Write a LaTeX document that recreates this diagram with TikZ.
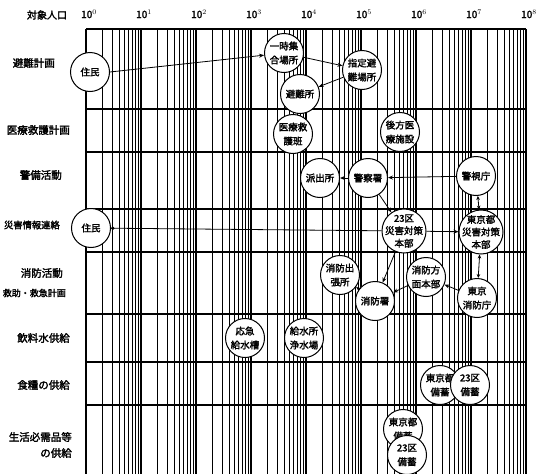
\documentclass[tikz,border=0pt]{standalone}
\usepackage{fontspec}
\newfontfamily\jp[AutoFakeBold=2.2]{Noto Sans CJK JP}
\usetikzlibrary{arrows.meta}
\begin{document}
\begin{tikzpicture}[x=1pt, y=-1pt,
  minor/.style={black, line width=0.7pt},
  major/.style={black, line width=1.4pt},
  rowline/.style={black, line width=1.2pt},
  org/.style={draw=black, line width=1pt, circle, fill=white,
              minimum size=39pt, inner sep=-9pt, align=center,
              font=\jp\bfseries\fontsize{9.5}{14}\selectfont},
  bigorg/.style={org, minimum size=44pt,
              font=\jp\bfseries\fontsize{9.5}{12.5}\selectfont},
  rowlbl/.style={anchor=east, inner sep=0pt, align=right,
              font=\jp\bfseries\fontsize{10.5}{12}\selectfont},
  axlbl/.style={inner sep=0pt, font=\jp\bfseries\fontsize{10}{12}\selectfont},
  arr/.style={-{Stealth[length=5pt, width=4pt]}, line width=0.8pt},
  arrboth/.style={{Stealth[length=4pt, width=3.5pt]}-{Stealth[length=4pt, width=3.5pt]}, line width=0.8pt},
  dotline/.style={{Circle[length=3.5pt]}-, line width=0.8pt},
]
\useasboundingbox (0,0) rectangle (541,474);
\def\dx{55}  % one decade
\def\xo{86}  % 10^0
% Axis labels
\node[axlbl] (axname) at (47,15) {対象人口};
\foreach \d in {0,...,8}
  \node[axlbl] (ax\d) at ({\xo+\dx*\d+3},14) {10$^{\d}$};
% Log grid
\foreach \d in {0,...,7}
  \foreach \k in {2,...,9} {
    \pgfmathsetmacro{\gx}{\xo+\dx*(\d+log10(\k))}
    \draw[minor] (\gx,29) -- (\gx,474);
  }
\foreach \d in {0,...,8}
  \draw[major] ({\xo+\dx*\d},29) -- ({\xo+\dx*\d},474);
% Row lines
\foreach \r in {29,109,152,209,252,314,362,405}
  \draw[rowline] (\xo,\r) -- ({\xo+8*\dx},\r);
% Row labels
\node[rowlbl] (r1) at (55,63) {避難計画};
\node[rowlbl] (r2) at (70,130) {医療救護計画};
\node[rowlbl] (r3) at (62,175) {警備活動};
\node[rowlbl, font=\jp\bfseries\fontsize{9.3}{12}\selectfont] (r4) at (60,225) {災害情報連絡};
\node[rowlbl] (r5) at (63,273) {消防活動};
\node[rowlbl, font=\jp\bfseries\fontsize{9}{12}\selectfont] (r6) at (66,293) {救助・救急計画};
\node[rowlbl] (r7) at (70,338) {飲料水供給};
\node[rowlbl] (r8) at (70,385) {食糧の供給};
\node[rowlbl, font=\jp\bfseries\fontsize{10.5}{16}\selectfont] (r9) at (72,445) {生活必需品等\\の供給};
% Organisations
\node[org] (jumin1) at (90,72) {住民};
\node[org] (ichiji) at (284,53) {一時集\\合場所};
\node[org] (shitei) at (362,70) {指定避\\難場所};
\node[org] (hinanjo) at (300,94) {避難所};
\node[org] (iryohan) at (293,134) {医療救\\護班};
\node[org] (koho) at (400,132) {後方医\\療施設};
\node[org] (hashutsu) at (320,178) {派出所};
\node[org] (keisatsu) at (368,178) {警察署};
\node[org] (keishicho) at (476,176) {警視庁};
\node[org] (jumin2) at (91,228) {住民};
\node[bigorg] (ku23) at (404,231) {23区\\災害対策\\本部};
\node[bigorg] (tokyo) at (481,232) {東京都\\災害対策\\本部};
\node[org] (shutcho) at (340,275) {消防出\\張所};
\node[org] (homen) at (426,277) {消防方\\面本部};
\node[org] (tfd) at (477,298) {東京\\消防庁};
\node[org] (shobosho) at (375,301) {消防署};
\node[org] (okyu) at (245,338) {応急\\給水槽};
\node[org] (kyusui) at (304,338) {給水所\\浄水場};
\node[org] (tbichiku1) at (440,385) {東京都\\備蓄};
\node[org] (kbichiku1) at (470,385) {23区\\備蓄};
\node[org] (tbichiku2) at (403,429) {東京都\\備蓄};
\node[org] (kbichiku2) at (407,455) {23区\\備蓄};
% Connectors
\draw[arr] (jumin1.east) -- (ichiji);
\draw[arr] (ichiji) -- (shitei);
\draw[arr] (shitei) -- (hinanjo);
\draw[arr] (keisatsu) -- (hashutsu);
\draw[arr] (keishicho) -- (keisatsu);
\draw[arr] (keisatsu) -- (ku23);
\draw[arrboth] (keishicho) -- (tokyo);
\draw[dotline] (jumin2) -- (ku23);
\draw[arr] (ku23) -- (tokyo);
\draw[arr] (ku23) -- (shobosho);
\draw[arr] (shobosho) -- (shutcho);
\draw[arr] (homen) -- (shobosho);
\draw[arr] (tfd) -- (homen);
\draw[arrboth] (tfd) -- (tokyo);
\end{tikzpicture}
\end{document}
